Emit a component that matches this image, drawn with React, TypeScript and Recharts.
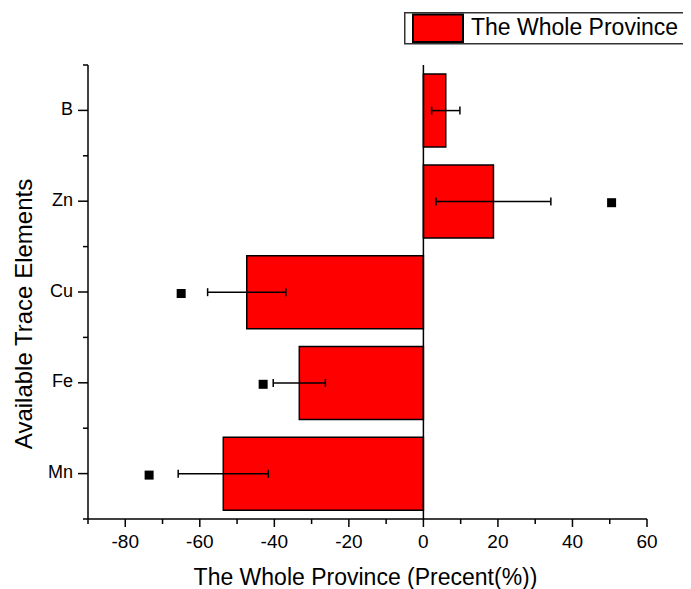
import React from 'react';
import {
  ComposedChart,
  Bar,
  ErrorBar,
  Scatter,
  XAxis,
  YAxis,
  ReferenceLine,
  Legend,
  Label,
} from 'recharts';

const categories = ['B', 'Zn', 'Cu', 'Fe', 'Mn'];
const values = [6.0, 18.8, -47.4, -33.3, -53.7];
const errors = [3.8, 15.4, 10.5, 7.0, 12.1];
const markers: (number | null)[] = [null, 50.5, -65.0, -43.0, -73.6];
const xTicks = [-90, -80, -70, -60, -50, -40, -30, -20, -10, 0, 10, 20, 30, 40, 50, 60];
const seriesName = 'The Whole Province';
const xTitle = 'The Whole Province (Precent(%))';
const yTitle = 'Available Trace Elements';

const data = categories.map((name, i) => ({
  name,
  value: values[i],
  err: errors[i],
  marker: markers[i],
}));

const FONT = "Arial, 'Liberation Sans', sans-serif";
const CHART_W = 683;
const CHART_H = 581;
const MARGIN = { top: 57, right: 44, bottom: 0, left: 0 };
const XAXIS_H = 70;
const YAXIS_W = 80;
const PLOT_H = CHART_H - MARGIN.top - MARGIN.bottom - XAXIS_H;
const HALF_BAND = PLOT_H / categories.length / 2;

const XTick = (props: any) => {
  const { x, y, payload } = props;
  const v = payload.value;
  const major = v % 20 === 0;
  return (
    <g>
      <line x1={x} y1={y} x2={x} y2={y + (major ? 8 : 5)} stroke="#000" strokeWidth={1.5} />
      {major && (
        <text x={x} y={y + 29} textAnchor="middle" fontSize={19} fontFamily={FONT} fill="#000">
          {v}
        </text>
      )}
    </g>
  );
};

const YTick = (props: any) => {
  const { x, y, payload, index } = props;
  return (
    <g>
      <line x1={x - 10} y1={y} x2={x} y2={y} stroke="#000" strokeWidth={1.5} />
      <line x1={x - 5} y1={y - HALF_BAND} x2={x} y2={y - HALF_BAND} stroke="#000" strokeWidth={1.5} />
      {index === categories.length - 1 && (
        <line x1={x - 5} y1={y + HALF_BAND} x2={x} y2={y + HALF_BAND} stroke="#000" strokeWidth={1.5} />
      )}
      <text x={x - 15} y={y + 4.5} textAnchor="end" fontSize={18} fontFamily={FONT} fill="#000">
        {payload.value}
      </text>
    </g>
  );
};

const Square = (props: any) => {
  const { cx, cy, payload } = props;
  if (payload == null || payload.marker == null || cx == null || isNaN(cx)) return <g />;
  return <rect x={cx - 4.5} y={cy - 3} width={9} height={9} fill="#000" />;
};

const LegendContent = () => (
  <svg width={287} height={33} style={{ display: 'block' }}>
    <rect x={0.75} y={0.75} width={285} height={31} fill="#fff" stroke="#333" strokeWidth={1.5} />
    <rect x={9} y={2.5} width={50} height={27.5} fill="#ff0000" stroke="#000" strokeWidth={2} />
    <text x={67} y={22.5} fontSize={23} fontFamily={FONT} fill="#000">
      {seriesName}
    </text>
  </svg>
);

export default function App() {
  return (
    <ComposedChart
      width={CHART_W}
      height={CHART_H}
      data={data}
      layout="vertical"
      margin={MARGIN}
      barCategoryGap="10%"
    >
      <XAxis
        type="number"
        domain={[-90, 60]}
        ticks={xTicks}
        interval={0}
        height={XAXIS_H}
        tickSize={0}
        tickMargin={0}
        tickLine={false}
        tick={<XTick />}
        axisLine={{ stroke: '#000', strokeWidth: 1.5 }}
        allowDataOverflow
      >
        <Label
          content={(p: any) => {
            const vb = p.viewBox;
            return (
              <text
                x={vb.x + vb.width / 2 - 2}
                y={vb.y + 65.5}
                textAnchor="middle"
                fontSize={23}
                fontFamily={FONT}
                fill="#000"
              >
                {xTitle}
              </text>
            );
          }}
        />
      </XAxis>
      <YAxis
        type="category"
        dataKey="name"
        width={YAXIS_W}
        tickSize={0}
        tickMargin={0}
        tickLine={false}
        tick={<YTick />}
        interval={0}
        axisLine={{ stroke: '#000', strokeWidth: 1.5 }}
      >
        <Label
          content={(p: any) => {
            const vb = p.viewBox;
            const cy = vb.y + vb.height / 2 + 22;
            return (
              <text
                transform={`translate(24, ${cy}) rotate(-90)`}
                textAnchor="middle"
                fontSize={24}
                fontFamily={FONT}
                fill="#000"
              >
                {yTitle}
              </text>
            );
          }}
        />
      </YAxis>
      <Legend
        layout="horizontal"
        verticalAlign="middle"
        align="center"
        wrapperStyle={{ position: 'absolute', left: 396, top: 4, width: 287, height: 33 }}
        content={<LegendContent />}
      />
      <Bar
        dataKey="value"
        name={seriesName}
        fill="#ff0000"
        stroke="#000"
        strokeWidth={1.5}
        isAnimationActive={false}
      >
        <ErrorBar dataKey="err" direction="x" width={4} stroke="#000" strokeWidth={1.5} />
      </Bar>
      <Scatter dataKey="marker" fill="#000" shape={<Square />} isAnimationActive={false} legendType="none" />
      <ReferenceLine x={0} stroke="#000" strokeWidth={1.5} />
    </ComposedChart>
  );
}
